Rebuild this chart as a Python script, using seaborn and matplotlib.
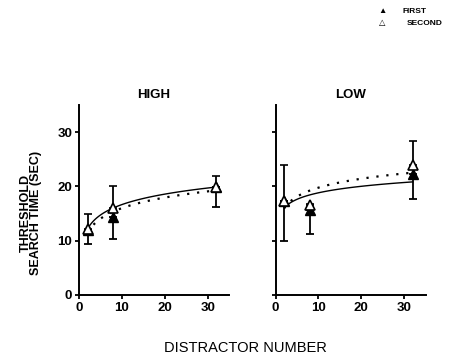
"""
Threshold search time vs distractor number, HIGH and LOW panels
"""

import numpy as np
import pandas as pd
import matplotlib
matplotlib.use("Agg")
import matplotlib.pyplot as plt
import seaborn as sns

# Data
distractors = [2, 8, 32]
panels = ["HIGH", "LOW"]

high_first = [12.0, 14.3, 19.8]
high_second = [12.2, 16.0, 19.9]
high_first_lo = [2.6, 4.0, 3.6]     # first series: lower bars only
high_second_hi = [2.8, 4.1, 2.0]    # second series: upper bars only

low_first = [17.4, 15.7, 22.2]
low_second = [17.3, 16.5, 23.9]
low_first_lo = [7.4, 4.5, 4.6]
low_second_hi = [6.7, 0.3, 4.4]

# which fitted series is drawn solid in each panel
solid_series = {"HIGH": "second", "LOW": "first"}

y_ticks = [0, 10, 20, 30]
x_ticks = [0, 10, 20, 30]

sns.set_style("ticks")
plt.rcParams["font.family"] = ["Liberation Sans", "DejaVu Sans"]
plt.rcParams["text.color"] = "black"
plt.rcParams["xtick.color"] = "black"
plt.rcParams["ytick.color"] = "black"
plt.rcParams["axes.edgecolor"] = "black"

fig = plt.figure(figsize=(4.55, 3.64), dpi=100)
ax_high = fig.add_axes([0.1736, 0.1896, 0.330, 0.522])
ax_low = fig.add_axes([0.6055, 0.1896, 0.330, 0.522])

panel_data = {
    "HIGH": (high_first, high_second, high_first_lo, high_second_hi),
    "LOW": (low_first, low_second, low_first_lo, low_second_hi),
}

x = np.array(distractors, dtype=float)
x_fit = np.linspace(2, 32, 100)

for ax, name in zip([ax_high, ax_low], panels):
    first, second, first_lo, second_hi = panel_data[name]

    # logarithmic fits through each series
    p1 = np.polyfit(np.log(x), first, 1)
    p2 = np.polyfit(np.log(x), second, 1)
    fits = pd.DataFrame({
        "x": x_fit,
        "first": np.polyval(p1, np.log(x_fit)),
        "second": np.polyval(p2, np.log(x_fit)),
    })
    solid = solid_series[name]
    dotted = "second" if solid == "first" else "first"
    sns.lineplot(data=fits, x="x", y=solid, ax=ax, color="black", lw=1.0)
    sns.lineplot(data=fits, x="x", y=dotted, ax=ax, color="black", lw=1.6,
                 linestyle=(0, (1, 3.5)))

    ax.errorbar(x, first, yerr=[first_lo, [0, 0, 0]], fmt="^", color="black",
                mfc="black", ms=7, capsize=3, elinewidth=1.3, capthick=1.3, zorder=3)
    ax.errorbar(x, second, yerr=[[0, 0, 0], second_hi], fmt="^", color="black",
                mfc="white", ms=7, mew=1.2, capsize=3, elinewidth=1.3, capthick=1.3,
                zorder=4)

    ax.set_xlim(0, 35)
    ax.set_ylim(0, 35)
    ax.set_xticks(x_ticks)
    ax.set_yticks(y_ticks)
    ax.set_xlabel("")
    ax.set_ylabel("")
    ax.set_title(name, fontsize=9.5, fontweight="bold", pad=5)
    ax.tick_params(direction="out", length=3, width=1.3, labelsize=9.5, pad=2)
    for lab in ax.get_xticklabels() + ax.get_yticklabels():
        lab.set_fontweight("bold")
    for side in ["left", "bottom"]:
        ax.spines[side].set_linewidth(1.4)
    sns.despine(ax=ax)

ax_low.set_yticklabels([])

fig.text(0.068, 0.415, "THRESHOLD\nSEARCH TIME (SEC)", rotation=90, ha="center",
         va="center", fontsize=9, fontweight="bold", linespacing=0.9)
fig.text(0.54, 0.025, "DISTRACTOR NUMBER", ha="center", va="bottom", fontsize=10.5)

# legend with markers only
fig.text(0.84, 0.968, "\u25B2", ha="center", va="center", fontsize=6)
fig.text(0.84, 0.935, "\u25B3", ha="center", va="center", fontsize=6)
fig.text(0.885, 0.968, "FIRST", ha="left", va="center", fontsize=6, fontweight="bold")
fig.text(0.893, 0.935, "SECOND", ha="left", va="center", fontsize=6, fontweight="bold")

fig.savefig("out.png", dpi=100)
